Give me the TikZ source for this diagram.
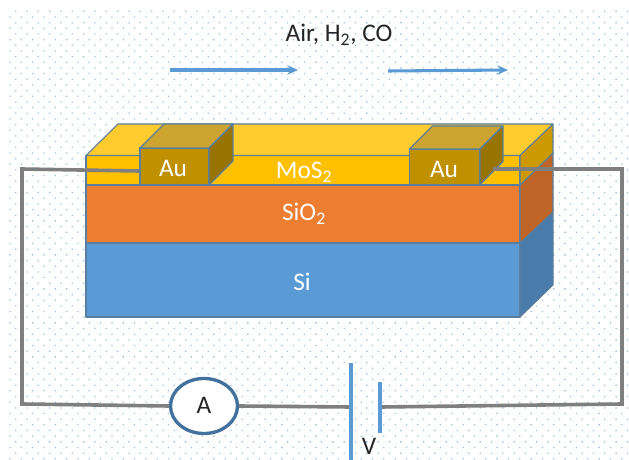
\documentclass[tikz,border=0pt]{standalone}
\usepackage{fontspec}
\setmainfont{Carlito}
\usetikzlibrary{arrows.meta,shapes.geometric}
\definecolor{edgeb}{HTML}{5A7F9E}
\definecolor{flow}{HTML}{5B9BD5}
\definecolor{wirec}{HTML}{7F7F7F}
\definecolor{ringc}{HTML}{41719C}
\definecolor{mostop}{HTML}{FFCB2F}
\definecolor{mosfr}{HTML}{FFC000}
\definecolor{mossd}{HTML}{CC9A00}
\definecolor{oxfr}{HTML}{ED7D31}
\definecolor{oxsd}{HTML}{BE6427}
\definecolor{sifr}{HTML}{5B9BD5}
\definecolor{sisd}{HTML}{497CAA}
\definecolor{autop}{HTML}{CBA52F}
\definecolor{aufr}{HTML}{BF9000}
\definecolor{ausd}{HTML}{997300}
\tikzset{
  face/.style={draw=edgeb,line width=0.8pt,line join=round},
  lbl/.style={font=\fontsize{19}{23}\selectfont,text=white,inner sep=0pt},
  blk/.style={font=\fontsize{19}{23}\selectfont,text=black!85,inner sep=0pt},
  wire/.style={wirec,line width=2.7pt,line join=miter},
  plate/.style={flow,line width=2.5pt},
  gasflow/.style={flow,line width=2.3pt,-{Stealth[length=8pt,width=7pt]}},
}
\begin{document}
\begin{tikzpicture}[x=0.75pt,y=-0.75pt]
  \useasboundingbox (0,0) rectangle (629,460);
  \fill[white] (0,0) rectangle (629,460);
  % dotted sheet behind everything
  \fill[flow!60] \foreach \r in {0,...,39} { \foreach \c in {0,...,54} {
    ({15+11.33*\c},{10.7+11.33*\r}) rectangle ++(1.3,1.3)
    ({9.3+11.33*\c},{16.3+11.33*\r}) rectangle ++(1.3,1.3)
  } };
  % Si
  \draw[face,fill=sifr] (86,243) rectangle (520,317);
  \draw[face,fill=sisd] (520,243) -- (553,212) -- (553,285) -- (520,317) -- cycle;
  % SiO2
  \draw[face,fill=oxfr] (86,185) rectangle (520,243);
  \draw[face,fill=oxsd] (520,185) -- (553,153) -- (553,212) -- (520,243) -- cycle;
  % MoS2
  \draw[face,fill=mosfr] (86,155.5) rectangle (520,185);
  \draw[face,fill=mostop] (86,155.5) -- (118,124) -- (553,124) -- (520,155.5) -- cycle;
  \draw[face,fill=mossd] (520,155.5) -- (553,124) -- (553,153) -- (520,185) -- cycle;
  % gold pads: front, top, side
  \foreach \px/\py/\pw/\pd/\ph in {140/148/69/24/37,409.5/149/70.5/23/35.5} {
    \draw[face,fill=aufr] (\px,\py) rectangle ({\px+\pw},{\py+\ph});
    \draw[face,fill=autop] (\px,\py) -- ({\px+\pd},{\py-\pd}) -- ({\px+\pw+\pd},{\py-\pd}) -- ({\px+\pw},\py) -- cycle;
    \draw[face,fill=ausd] ({\px+\pw},\py) -- ({\px+\pw+\pd},{\py-\pd}) -- ({\px+\pw+\pd},{\py+\ph-\pd}) -- ({\px+\pw},{\py+\ph}) -- cycle;
  }
  \node[lbl] (auleft) at (173,168) {Au};
  \node[lbl] (auright) at (444,169) {Au};
  \node[lbl] (mos) at (304,172) {MoS\textsubscript{2}};
  \node[lbl] (oxide) at (304,214) {SiO\textsubscript{2}};
  \node[lbl] (si) at (302,282) {Si};
  % circuit
  \coordinate (padl) at (139,171);
  \coordinate (cornertl) at (22,169);
  \coordinate (cornerbl) at (22,404);
  \coordinate (padr) at (493,169);
  \coordinate (cornertr) at (622,169);
  \coordinate (cornerbr) at (622,404);
  \coordinate (platelt) at (351,363);
  \coordinate (platelb) at (351,460);
  \coordinate (platert) at (380,382);
  \coordinate (platerb) at (380,433);
  \coordinate (platelm) at (351,407);
  \coordinate (platerm) at (381,407);
  \node[draw=ringc,fill=white,line width=2.5pt,ellipse,minimum width=67pt*0.75,minimum height=55pt*0.75,inner sep=0pt] (amm) at (204,406) {};
  \node[blk] (ammlbl) at (204,405) {A};
  \draw[wire] (padl) -- (cornertl) -- (cornerbl) -- (amm.west);
  \draw[wire] (amm.east) -- (platelm);
  \draw[wire] (platerm) -- (cornerbr) -- (cornertr) -- (padr);
  \draw[plate] (platelt) -- (platelb);
  \draw[plate] (platert) -- (platerb);
  \node[blk] (volt) at (369,446.5) {V};
  % gas flow
  \node[blk] (gas) at (339,35) {Air, H\textsubscript{2}, CO};
  \coordinate (flowa) at (170,70);
  \coordinate (flowb) at (298,70);
  \coordinate (flowc) at (388,71);
  \coordinate (flowd) at (508,70);
  \draw[gasflow] (flowa) -- (flowb);
  \draw[gasflow] (flowc) -- (flowd);
\end{tikzpicture}
\end{document}
